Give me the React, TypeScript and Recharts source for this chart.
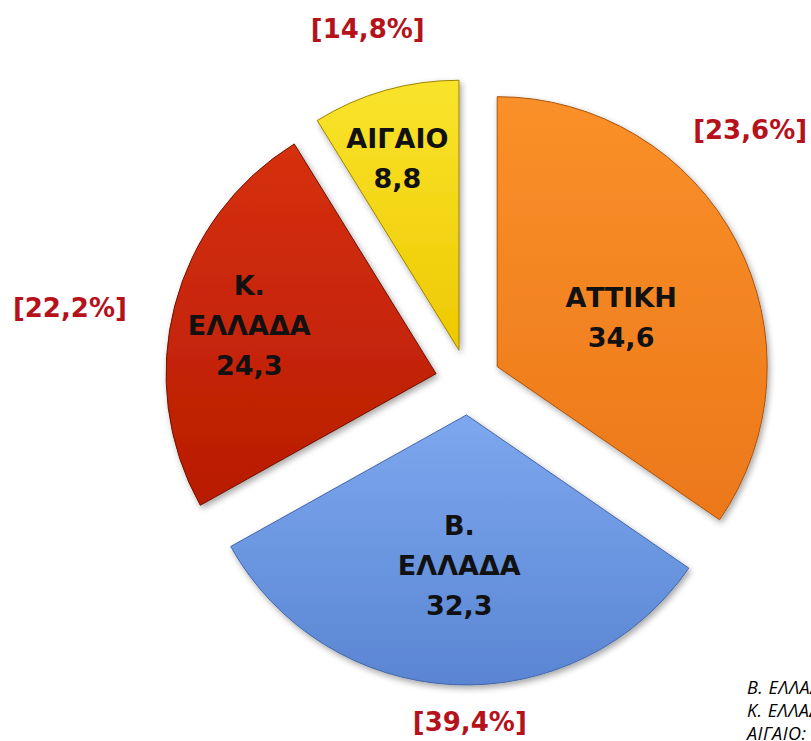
import React from "react";
import { PieChart, Pie, Cell, Sector } from "recharts";

// region shares of the pie, and the bracketed percentages shown outside
const regions = ["ΑΤΤΙΚΗ", "Β. ΕΛΛΑΔΑ", "Κ. ΕΛΛΑΔΑ", "ΑΙΓΑΙΟ"];
const values = [34.6, 32.3, 24.3, 8.8];
const shares = [23.6, 39.4, 22.2, 14.8];
const notes = ["Β. ΕΛΛΑΔΑ:", "Κ. ΕΛΛΑΔΑ:", "ΑΙΓΑΙΟ:"];

const data = regions.map((name, i) => ({ name, value: values[i], share: shares[i] }));

const colors = [
  { id: "gAtt", top: "#FA9029", bottom: "#EC7819", edge: "#A9530F" },
  { id: "gBel", top: "#7DA8EF", bottom: "#5A85D2", edge: "#4366A8" },
  { id: "gKel", top: "#D6300B", bottom: "#B81C04", edge: "#6E1204" },
  { id: "gAig", top: "#F9E42C", bottom: "#EEC800", edge: "#9C8400" },
];

const CX = 468;
const CY = 382;
const R = 270;
const EXPLODE = 33;
const RAD = Math.PI / 180;

// label placement: fraction of radius from the slice apex, clockwise turn from mid angle
const innerLabelPos = [
  { f: 0.494, turn: 6 },
  { f: 0.56, turn: 0 },
  { f: 0.715, turn: 0 },
  { f: 0.745, turn: -2 },
];
// bracket labels: radius factor from pie centre, clockwise turn from mid angle
const shareLabelPos = [
  { r: 1.4, turn: -14 },
  { r: 1.26, turn: -3 },
  { r: 1.5, turn: -4 },
  { r: 1.36, turn: 0 },
];

const fmt = (v: number) => v.toFixed(1).replace(".", ",");

const ExplodedSector = (props: any) => {
  const { cx, cy, midAngle } = props;
  const a = -midAngle * RAD;
  return (
    <Sector
      {...props}
      cx={cx + EXPLODE * Math.cos(a)}
      cy={cy + EXPLODE * Math.sin(a)}
    />
  );
};

const renderLabel = (props: any) => {
  const { cx, cy, midAngle, outerRadius, index } = props;
  const d = data[index];
  const a = -midAngle * RAD;
  const ax = cx + EXPLODE * Math.cos(a);
  const ay = cy + EXPLODE * Math.sin(a);
  const p = innerLabelPos[index];
  const la = -(midAngle - p.turn) * RAD;
  const lx = ax + p.f * outerRadius * Math.cos(la);
  const ly = ay + p.f * outerRadius * Math.sin(la);
  const lines = [...d.name.split(" "), fmt(d.value)];
  const step = 40;
  const y0 = ly - ((lines.length - 1) * step) / 2;

  const s = shareLabelPos[index];
  const b = -(midAngle - s.turn) * RAD;
  const sx = cx + s.r * outerRadius * Math.cos(b);
  const sy = cy + s.r * outerRadius * Math.sin(b);

  return (
    <g>
      {lines.map((l, k) => (
        <text
          key={k}
          x={lx}
          y={y0 + k * step}
          textAnchor="middle"
          dominantBaseline="central"
          fontFamily="DejaVu Sans"
          fontWeight="bold"
          fontSize={27}
          fill="#111"
        >
          {l}
        </text>
      ))}
      <text
        x={sx}
        y={sy}
        textAnchor="middle"
        dominantBaseline="central"
        fontFamily="DejaVu Sans"
        fontWeight="bold"
        fontSize={26}
        fill="#B5121B"
      >
        [{fmt(d.share)}%]
      </text>
    </g>
  );
};

export default function App() {
  return (
    <div
      style={{
        position: "absolute",
        left: 0,
        top: 0,
        width: 811,
        height: 741,
        overflow: "hidden",
        background: "#fff",
      }}
    >
      <svg width={0} height={0} style={{ position: "absolute" }}>
        <defs>
          {colors.map((c) => (
            <linearGradient key={c.id} id={c.id} x1="0" y1="0" x2="0" y2="1">
              <stop offset="0%" stopColor={c.top} />
              <stop offset="100%" stopColor={c.bottom} />
            </linearGradient>
          ))}
          <filter id="pieShadow" x="-15%" y="-15%" width="135%" height="135%">
            <feDropShadow dx="2" dy="3" stdDeviation="3" floodColor="#000" floodOpacity="0.35" />
          </filter>
        </defs>
      </svg>
      <PieChart width={811} height={741} margin={{ top: 0, right: 0, bottom: 0, left: 0 }}>
        <Pie
          data={data}
          dataKey="value"
          nameKey="name"
          cx={CX}
          cy={CY}
          outerRadius={R}
          startAngle={90}
          endAngle={-270}
          isAnimationActive={false}
          shape={ExplodedSector}
          label={renderLabel}
          labelLine={false}
        >
          {colors.map((c) => (
            <Cell
              key={c.id}
              fill={`url(#${c.id})`}
              stroke={c.edge}
              strokeWidth={1}
              filter="url(#pieShadow)"
            />
          ))}
        </Pie>
      </PieChart>
      <div
        style={{
          position: "absolute",
          left: 747,
          top: 676,
          fontFamily: "'Open Sans'",
          fontStyle: "italic",
          fontSize: 18,
          letterSpacing: 0.5,
          lineHeight: "23px",
          whiteSpace: "nowrap",
          color: "#000",
        }}
      >
        {notes.map((n) => (
          <div key={n}>{n}</div>
        ))}
      </div>
    </div>
  );
}
